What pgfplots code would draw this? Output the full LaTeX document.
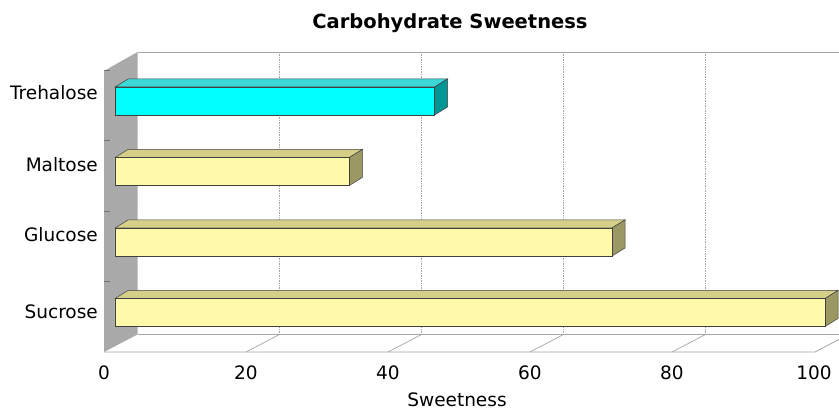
\documentclass[border=0pt]{standalone}
\usepackage{pgfplots}
\pgfplotsset{compat=1.18}
\usetikzlibrary{patterns}
\usepackage{fontspec}
\setmainfont{DejaVu Sans}
\definecolor{yfront}{RGB}{255,250,170}
\definecolor{ytop}{RGB}{214,207,135}
\definecolor{yside}{RGB}{156,152,100}
\definecolor{cfront}{RGB}{0,255,255}
\definecolor{ctop}{RGB}{60,215,215}
\definecolor{cside}{RGB}{0,150,150}
\definecolor{wallgray}{RGB}{170,170,170}
\definecolor{linegray}{RGB}{165,165,165}
\begin{document}
\begin{tikzpicture}
\useasboundingbox (0,0) rectangle (839pt,412pt);
\begin{scope}[yshift=412pt, x=1pt, y=-1pt]
 \draw[linegray, line width=0.8pt] (137.5,52) -- (839,52);
 \foreach \g in {279.5,421.5,563.5,705.5}
   \draw[linegray, line width=0.7pt, densely dotted] (\g,52) -- (\g,334.5);
 \draw[linegray, line width=0.8pt] (104,352) -- (815,352) -- (848.5,334.5);
 \draw[linegray, line width=0.8pt] (137.5,334.5) -- (848.5,334.5);
 \foreach \v in {20,40,60,80}
   \draw[linegray, line width=0.7pt] (104+7.1*\v,352) -- (137.5+7.1*\v,334.5);
 \fill[wallgray] (104,71) -- (137.5,52) -- (137.5,334.5) -- (104,352) -- cycle;
 \fill[pattern=dots, pattern color=black!35] (104,71) -- (137.5,52) -- (137.5,334.5) -- (104,352) -- cycle;
 \foreach \t in {70,140.5,211,281.5}
   \draw[black!55, line width=0.6pt] (104,\t) -- (110,\t);
\end{scope}
\begin{axis}[
  at={(115pt,64.25pt)}, anchor=south west,
  scale only axis, width=710pt, height=282pt,
  xmin=0, xmax=100, ymin=-0.5, ymax=3.5,
  clip=false,
  axis line style={draw=none}, tick style={draw=none}, major tick length=0pt,
  xtick={0,20,...,100},
  ytick={0.007,1.099,2.092,3.113},
  yticklabels={Sucrose,Glucose,Maltose,Trehalose},
  /pgf/number format/assume math mode=true,
  tick label style={font=\fontsize{18.5}{22}\selectfont},
  xticklabel style={anchor=center, xshift=-11pt, yshift=-24.75pt},
  yticklabel style={anchor=east, inner sep=0pt, xshift=-17pt},
  title={Carbohydrate Sweetness},
  title style={at={(axis description cs:0.4718,1.130)}, anchor=center, font=\bfseries\fontsize{19.5}{22}\selectfont},
  xlabel={Sweetness},
  xlabel style={at={(axis description cs:0.4817,-0.1853)}, anchor=center, font=\fontsize{18.5}{22}\selectfont},
  no marks,
]
% top faces
\addplot[fill=ytop, draw=black!75, line width=0.5pt] coordinates {(0,0.1986) (100,0.1986) (101.831,0.3121) (1.831,0.3121)} -- cycle;
\addplot[fill=ytop, draw=black!75, line width=0.5pt] coordinates {(0,1.1986) (70,1.1986) (71.831,1.3121) (1.831,1.3121)} -- cycle;
\addplot[fill=ytop, draw=black!75, line width=0.5pt] coordinates {(0,2.1986) (33,2.1986) (34.831,2.3121) (1.831,2.3121)} -- cycle;
\addplot[fill=ctop, draw=black!75, line width=0.5pt] coordinates {(0,3.1986) (45,3.1986) (46.831,3.3121) (1.831,3.3121)} -- cycle;
% side faces
\addplot[fill=yside, draw=black!75, line width=0.5pt] coordinates {(100,-0.1986) (100,0.1986) (101.831,0.3121) (101.831,-0.0851)} -- cycle;
\addplot[fill=yside, draw=black!75, line width=0.5pt] coordinates {(70,0.8014) (70,1.1986) (71.831,1.3121) (71.831,0.9149)} -- cycle;
\addplot[fill=yside, draw=black!75, line width=0.5pt] coordinates {(33,1.8014) (33,2.1986) (34.831,2.3121) (34.831,1.9149)} -- cycle;
\addplot[fill=cside, draw=black!75, line width=0.5pt] coordinates {(45,2.8014) (45,3.1986) (46.831,3.3121) (46.831,2.9149)} -- cycle;
% front faces
\addplot[xbar, bar width=28pt, bar shift=0pt, fill=yfront, draw=black!75, line width=0.5pt] coordinates {(100,0) (70,1) (33,2)};
\addplot[xbar, bar width=28pt, bar shift=0pt, fill=cfront, draw=black!75, line width=0.5pt] coordinates {(45,3)};
\end{axis}
\end{tikzpicture}
\end{document}
